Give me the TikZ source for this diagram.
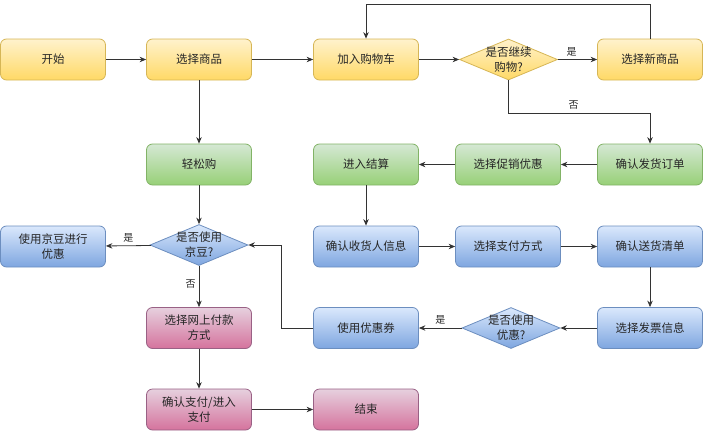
\documentclass[tikz,border=0pt]{standalone}
\usepackage{fontspec}
\newfontfamily\cjk{Noto Sans CJK SC}
\usetikzlibrary{arrows.meta,shapes.geometric}

\definecolor{ytop}{HTML}{FFF2CC}
\definecolor{ybot}{HTML}{FFD966}
\definecolor{yline}{HTML}{D6B656}
\definecolor{gtop}{HTML}{D5E8D4}
\definecolor{gbot}{HTML}{97D077}
\definecolor{gline}{HTML}{82B366}
\definecolor{btop}{HTML}{DAE8FC}
\definecolor{bbot}{HTML}{7EA6E0}
\definecolor{bline}{HTML}{6C8EBF}
\definecolor{ptop}{HTML}{E6D0DE}
\definecolor{pbot}{HTML}{D5739D}
\definecolor{pline}{HTML}{996185}

\tikzset{
  box/.style={rectangle, rounded corners=6pt, minimum width=105pt, minimum height=41pt,
    inner sep=2pt, align=center, text=black!85, font=\cjk\fontsize{11.5}{15}\selectfont},
  ybox/.style={box, draw=yline, top color=ytop, bottom color=ybot},
  gbox/.style={box, draw=gline, top color=gtop, bottom color=gbot},
  bbox/.style={box, draw=bline, top color=btop, bottom color=bbot},
  pbox/.style={box, draw=pline, top color=ptop, bottom color=pbot},
  dia/.style={diamond, aspect=2.4, inner xsep=0pt, inner ysep=-4pt, minimum width=98pt,
    minimum height=41pt, align=center, text=black!85, font=\cjk\fontsize{11.5}{15}\selectfont},
  ydia/.style={dia, draw=yline, top color=ytop, bottom color=ybot},
  bdia/.style={dia, draw=bline, top color=btop, bottom color=bbot},
  lbl/.style={font=\cjk\fontsize{10}{12}\selectfont, text=black!85, inner sep=3pt},
  line/.style={->, draw=black!80}
}

\begin{document}
\begin{tikzpicture}[x=1pt, y=-1pt, >={Stealth[length=6.5pt,width=5.5pt]}, line width=0.8pt]
    \useasboundingbox (0,0) rectangle (703,431);

    % 第一行
    \node[ybox] (start) at (53,59.5) {开始};
    \node[ybox] (pick) at (199,59.5) {选择商品};
    \node[ybox] (cart) at (366,59.5) {加入购物车};
    \node[ydia] (goon) at (508.5,59.5) {是否继续\\购物?};
    \node[ybox] (newpick) at (650,59.5) {选择新商品};

    % 第二行
    \node[gbox] (easy) at (199,164.5) {轻松购};
    \node[gbox] (settle) at (366,164.5) {进入结算};
    \node[gbox] (promo) at (508,164.5) {选择促销优惠};
    \node[gbox] (order) at (650,164.5) {确认发货订单};

    % 第三行
    \node[bbox] (jdbean) at (53,246.5) {使用京豆进行\\优惠};
    \node[bdia] (usebean) at (199,245) {是否使用\\京豆?};
    \node[bbox] (receiver) at (366,246.5) {确认收货人信息};
    \node[bbox] (paymode) at (508,246.5) {选择支付方式};
    \node[bbox] (list) at (650,246.5) {确认送货清单};

    % 第四行
    \node[pbox] (online) at (199,328) {选择网上付款\\方式};
    \node[bbox] (coupon) at (366,328) {使用优惠券};
    \node[bdia] (usecoupon) at (511,328) {是否使用\\优惠?};
    \node[bbox] (invoice) at (650,328) {选择发票信息};

    % 第五行
    \node[pbox] (paynow) at (199,409.5) {确认支付/进入\\支付};
    \node[pbox] (done) at (366,409.5) {结束};

    % 购物流程
    \draw[line] (start) -- (pick);
    \draw[line] (pick) -- (cart);
    \draw[line] (cart) -- (goon);
    \draw[line] (goon) -- node[lbl, above, pos=0.35] {是} (newpick);
    \draw[line] (newpick.north) -- ++(0,-34) -| (cart.north);
    \draw[line] (goon.south) -- ++(0,32.5) -| node[lbl, above, pos=0.23] {否} (order.north);
    \draw[line] (pick) -- (easy);

    % 结算流程
    \draw[line] (order) -- (promo);
    \draw[line] (promo) -- (settle);
    \draw[line] (settle) -- (receiver);
    \draw[line] (receiver) -- (paymode);
    \draw[line] (paymode) -- (list);
    \draw[line] (list) -- (invoice);
    \draw[line] (invoice) -- (usecoupon);
    \draw[line] (usecoupon) -- node[lbl, above] {是} (coupon);
    \draw[line] (coupon.west) -- ++(-32,0) |- (usebean.east);

    % 支付流程
    \draw[line] (easy) -- (usebean);
    \draw[line] (usebean) -- node[lbl, above] {是} (jdbean);
    \draw[line] (usebean) -- node[lbl, left, pos=0.45] {否} (online);
    \draw[line] (online) -- (paynow);
    \draw[line] (paynow) -- (done);
\end{tikzpicture}
\end{document}
